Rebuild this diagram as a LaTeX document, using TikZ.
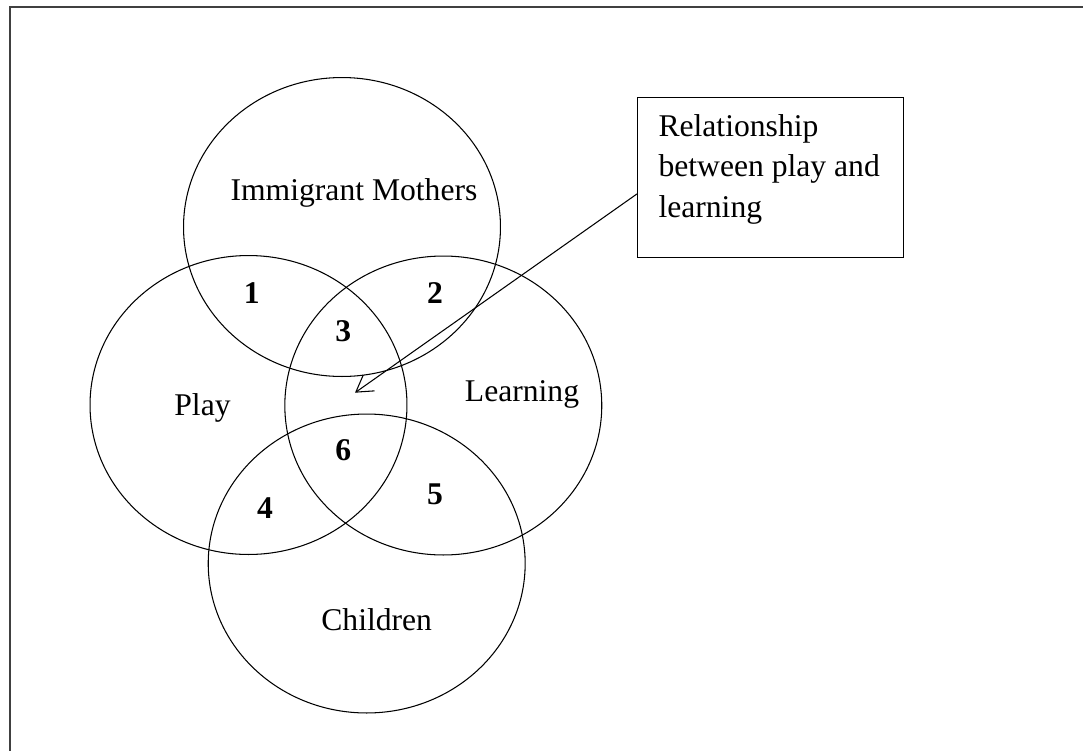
\documentclass[tikz,border=0pt]{standalone}
\usepackage{fontspec}
\setmainfont{Liberation Serif}
\usetikzlibrary{shapes.geometric,arrows.meta}
\definecolor{framegray}{RGB}{64,64,64}

\begin{document}
\begin{tikzpicture}[x=0.02cm,y=-0.02cm,line width=0.6pt]
	\tikzset{every node/.style={font=\fontsize{18}{23}\selectfont}}
	\tikzset{venn/.style={draw,ellipse,minimum width=6.34cm,minimum height=5.98cm,inner sep=0pt}}
	\tikzset{lbl/.style={anchor=base,inner sep=0pt}}
	\tikzset{num/.style={lbl,font=\fontsize{18}{23}\selectfont\bfseries}}
	\tikzset{relbox/.style={draw,rectangle,anchor=north west,inner xsep=0.42cm,inner ysep=0.34cm}}

	\useasboundingbox (0,0) rectangle (1083,751);
	\draw[framegray,line width=1.1pt] (10,751) -- (10,7) -- (1083,7);

	\node[venn] (mothers) at (342,227) {};
	\node[venn] (play) at (248.5,405) {};
	\node[venn] (learning) at (443.3,405.5) {};
	\node[venn] (children) at (366.7,563.5) {};

	\node[lbl] (mothersl) at (354,200.7) {Immigrant Mothers};
	\node[lbl] (playl) at (202.5,415) {Play};
	\node[lbl] (learningl) at (522,401.7) {Learning};
	\node[lbl] (childrenl) at (376.7,630.7) {Children};

	\node[num] (one) at (251.7,303.3) {1};
	\node[num] (two) at (435,303.3) {2};
	\node[num] (three) at (343.3,341) {3};
	\node[num] (four) at (265,518.3) {4};
	\node[num] (five) at (435,504) {5};
	\node[num] (six) at (343.3,460) {6};

	\node[relbox] (rel) at (637,97) {\parbox[t][2.52cm][t]{4.48cm}{Relationship\\between play and\\learning}};
	\coordinate (tip) at (355,392.7);
	\draw[-{Straight Barb[length=0.32cm,width=0.39cm]}] (rel.187) -- (tip);
\end{tikzpicture}
\end{document}
